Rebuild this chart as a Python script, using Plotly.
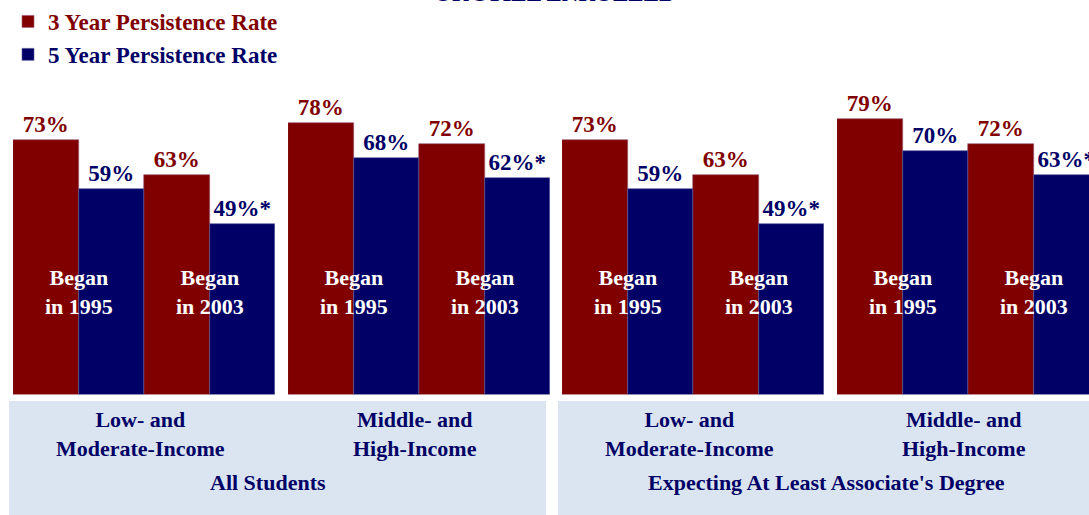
import plotly.graph_objects as go

RED = "#800000"
NAVY = "#000066"
BOX = "#DBE5F1"
FONT = "Liberation Serif, Times New Roman, serif"

cohorts = ["Began<br>in 1995", "Began<br>in 2003"]
incomes = ["Low- and<br>Moderate-Income", "Middle- and<br>High-Income",
           "Low- and<br>Moderate-Income", "Middle- and<br>High-Income"]
groups = ["All Students", "Expecting At Least Associate's Degree"]
rate3 = [[73, 63], [78, 72], [73, 63], [79, 72]]
rate5 = [[59, 49], [68, 62], [59, 49], [70, 63]]
mark5 = [["", "*"], ["", "*"], ["", "*"], ["", "*"]]
series = ["3 Year Persistence Rate", "5 Year Persistence Rate"]

W, H = 1089, 515
# panel pixel extents (left, right); the last one runs past the right edge
panels_px = [(13, 275), (288, 550), (562, 824), (837, 1099)]
y0_px, y100_px = 394.5, 46


def px_x(v):
    return v / W


def px_y(v):
    return 1 - v / H


def note(text, x, y, size=22, color=NAVY, **kw):
    fig.add_annotation(x=x, y=y, text=f"<b>{text}</b>", showarrow=False,
                       xanchor=kw.pop("xanchor", "center"), yanchor=kw.pop("yanchor", "middle"),
                       font=dict(color=color, size=size, family=FONT), **kw)


fig = go.Figure()
for i in range(4):
    ax = "x" if i == 0 else f"x{i + 1}"
    fig.add_trace(go.Bar(
        x=cohorts, y=rate3[i], xaxis=ax, yaxis="y",
        name=f"<span style='color:{RED}'><b>{series[0]}</b></span>",
        marker=dict(color=RED, line=dict(width=0.6, color="#9a5a7a")),
        text=[f"<b>{v}%</b>" for v in rate3[i]], textposition="outside", cliponaxis=False,
        constraintext="none", textfont=dict(color=RED, size=23, family=FONT),
        showlegend=(i == 0), legendgroup="r3",
    ))
    fig.add_trace(go.Bar(
        x=cohorts, y=rate5[i], xaxis=ax, yaxis="y",
        name=f"<span style='color:{NAVY}'><b>{series[1]}</b></span>",
        marker=dict(color=NAVY, line=dict(width=0.6, color="#5a5a9a")),
        text=[f"<b>{v}%{m}</b>" for v, m in zip(rate5[i], mark5[i])], textposition="outside",
        cliponaxis=False, constraintext="none", textfont=dict(color=NAVY, size=23, family=FONT),
        showlegend=(i == 0), legendgroup="r5",
    ))
    for c in cohorts:
        note(c, c, 29.5, color="white", xref=ax, yref="y")

# label boxes under the bars
for x0, x1 in [(9, 546), (558, 1100)]:
    fig.add_shape(type="rect", xref="paper", yref="paper", x0=px_x(x0), x1=px_x(x1),
                  y0=-0.05, y1=px_y(401), fillcolor=BOX, line_width=0, layer="below")

for (l, r), lab in zip(panels_px, incomes):
    note(lab, px_x((l + r) / 2 - 4), px_y(434), xref="paper", yref="paper")
for g, cx in zip(groups, [268, 826]):
    note(g, px_x(cx), px_y(482), xref="paper", yref="paper")

# title, mostly cut off at the top edge
note("OR STILL ENROLLED", px_x(555), px_y(8), size=23, xref="paper", yref="paper", yanchor="bottom")

layout_axes = {}
for i, (l, r) in enumerate(panels_px):
    key = "xaxis" if i == 0 else f"xaxis{i + 1}"
    span = (r - l) / 2
    right = min(r, W)
    layout_axes[key] = dict(
        domain=[px_x(l), px_x(right)], anchor="y", visible=False, fixedrange=True,
        range=[-0.5, -0.5 + (right - l) / span],
    )

fig.update_layout(
    width=W, height=H, margin=dict(l=0, r=0, t=0, b=0),
    paper_bgcolor="white", plot_bgcolor="white",
    barmode="group", bargap=0, bargroupgap=0,
    font=dict(family=FONT, size=22, color=NAVY),
    yaxis=dict(domain=[px_y(y0_px), px_y(y100_px)], range=[0, 100], visible=False),
    legend=dict(x=px_x(8), y=1.0, xanchor="left", yanchor="top", bgcolor="rgba(0,0,0,0)",
                font=dict(size=23, family=FONT), traceorder="normal"),
    **layout_axes,
)

fig.write_html("out.html", config={"displayModeBar": False},
               post_script="document.body.style.margin='0';document.body.style.overflow='hidden';")
